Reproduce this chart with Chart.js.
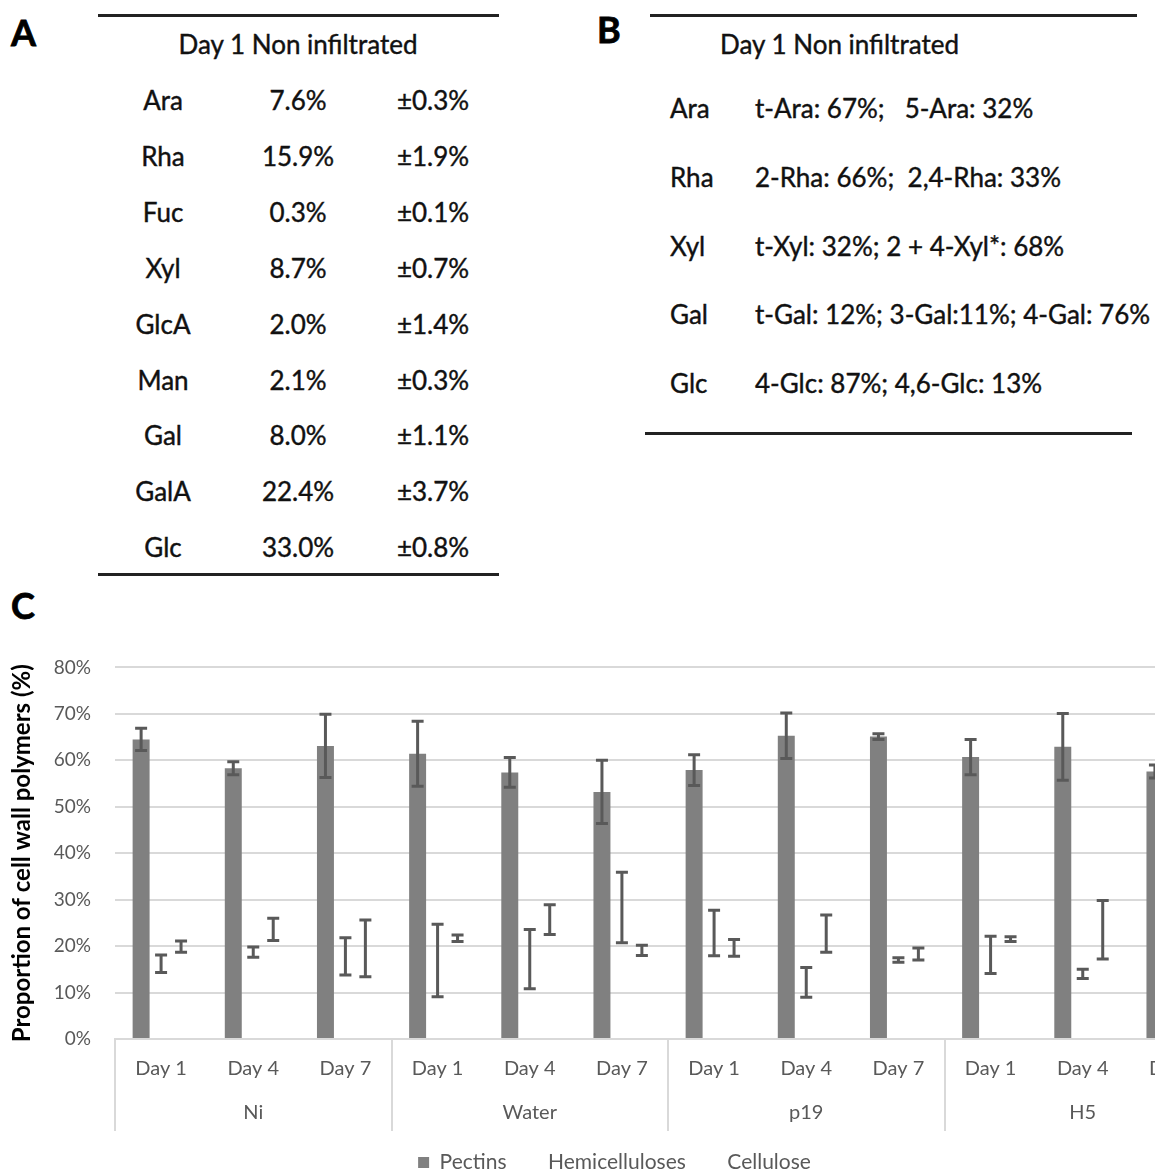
<!DOCTYPE html>
<html>
<head>
<meta charset="utf-8">
<script src="https://cdn.jsdelivr.net/npm/chart.js@4.4.0/dist/chart.umd.min.js"></script>
<style>
  html, body { margin: 0; padding: 0; background: #fff; }
  body { width: 1155px; height: 1175px; overflow: hidden; position: relative; font-family: Lato, "Open Sans", sans-serif; color: #111; }
  .panel { position: absolute; font-weight: bold; font-size: 36px; line-height: 36px; color: #000; -webkit-text-stroke: 0.8px #000; }
  .rule { position: absolute; height: 3px; background: #222; }
  .cell { position: absolute; font-size: 26px; line-height: 30px; white-space: nowrap; -webkit-text-stroke: 0.4px #111; }
  .mid { width: 160px; text-align: center; }
  #chartBox { position: absolute; left: 0; top: 632px; width: 1250px; height: 551px; }
</style>
</head>
<body>
<div class="panel" style="left:11px;top:14px">A</div>
<div class="panel" style="left:597px;top:11px">B</div>
<div class="panel" style="left:11px;top:587px">C</div>
<div id="tables"></div>
<div id="chartBox"><canvas id="wallChart" width="1250" height="551"></canvas></div>

<script>
// Table A: monosaccharide composition
const sugars = ['Ara', 'Rha', 'Fuc', 'Xyl', 'GlcA', 'Man', 'Gal', 'GalA', 'Glc'];
const sugarPct = ['7.6%', '15.9%', '0.3%', '8.7%', '2.0%', '2.1%', '8.0%', '22.4%', '33.0%'];
const sugarSd = ['±0.3%', '±1.9%', '±0.1%', '±0.7%', '±1.4%', '±0.3%', '±1.1%', '±3.7%', '±0.8%'];

// Table B: linkages
const linkSugars = ['Ara', 'Rha', 'Xyl', 'Gal', 'Glc'];
const linkages = [
    't-Ara: 67%;\u00a0\u00a0\u00a05-Ara: 32%',
    '2-Rha: 66%;\u00a0\u00a02,4-Rha: 33%',
    't-Xyl: 32%; 2 + 4-Xyl*: 68%',
    't-Gal: 12%; 3-Gal:11%; 4-Gal: 76%',
    '4-Glc: 87%; 4,6-Glc: 13%'
];
const tableTitle = 'Day 1 Non infiltrated';

// Chart C
const treatments = ['Ni', 'Water', 'p19', 'H5'];
const days = ['Day 1', 'Day 4', 'Day 7'];
const pectins = [64.5, 58.3, 63.1, 61.4, 57.4, 53.2, 57.9, 65.3, 65.1, 60.7, 62.9, 57.6];
const pectinsErr = [2.4, 1.4, 6.8, 7.0, 3.2, 6.8, 3.3, 4.9, 0.6, 3.8, 7.2, 1.4];
const hemicelluloses = [16.2, 18.7, 17.8, 16.9, 17.2, 28.3, 22.8, 12.2, 17.0, 18.1, 14.0, 20.5];
const hemicellulosesErr = [1.9, 1.1, 4.0, 7.8, 6.4, 7.6, 4.9, 3.2, 0.5, 4.0, 1.0, 2.0];
const cellulose = [19.9, 23.6, 19.5, 21.7, 25.7, 19.1, 19.6, 22.7, 18.3, 21.5, 23.5, 22.0];
const celluloseErr = [1.2, 2.4, 6.1, 0.7, 3.2, 1.1, 1.8, 4.0, 1.3, 0.5, 6.3, 1.5];

// ---- tables ----
const box = document.getElementById('tables');
function put(text, x, y, cls) {
    const d = document.createElement('div');
    d.className = 'cell ' + (cls || '');
    d.textContent = text;
    d.style.left = x + 'px';
    d.style.top = y + 'px';
    box.appendChild(d);
}
function rule(x, y, w) {
    const d = document.createElement('div');
    d.className = 'rule';
    d.style.left = x + 'px';
    d.style.top = y + 'px';
    d.style.width = w + 'px';
    box.appendChild(d);
}

rule(98, 14, 401);
put(tableTitle, 298 - 150, 29, 'mid');
box.lastChild.style.width = '300px';
sugars.forEach((s, i) => {
    const y = 100 + i * 55.9 - 15;
    put(s, 163 - 80, y, 'mid');
    put(sugarPct[i], 298 - 80, y, 'mid');
    put(sugarSd[i], 433 - 80, y, 'mid');
});
rule(98, 573, 401);

rule(650, 14, 487);
put(tableTitle, 720, 29);
linkSugars.forEach((s, i) => {
    const y = 108 + i * 68.8 - 15;
    put(s, 670, y);
    put(linkages[i], 755, y);
});
rule(645, 432, 487);

// ---- chart ----
const labels = treatments.flatMap(t => days.map((d, i) => [d, i === 1 ? t : '']));

const errorBars = {
    id: 'errorBars',
    afterDatasetsDraw(chart) {
        const ctx = chart.ctx, y = chart.scales.y;
        ctx.save();
        ctx.strokeStyle = '#595959';
        ctx.lineWidth = 3;
        chart.data.datasets.forEach((ds, i) => {
            chart.getDatasetMeta(i).data.forEach((bar, j) => {
                const v = ds.data[j], e = ds.err[j];
                const top = y.getPixelForValue(v + e), bot = y.getPixelForValue(v - e);
                const x = bar.x;
                ctx.beginPath();
                ctx.moveTo(x, top); ctx.lineTo(x, bot);
                ctx.moveTo(x - 6, top); ctx.lineTo(x + 6, top);
                ctx.moveTo(x - 6, bot); ctx.lineTo(x + 6, bot);
                ctx.stroke();
            });
        });
        ctx.restore();
    }
};

new Chart(document.getElementById('wallChart'), {
    type: 'bar',
    data: {
        labels: labels,
        datasets: [
            { label: 'Pectins', data: pectins, err: pectinsErr, backgroundColor: '#808080' },
            { label: 'Hemicelluloses', data: hemicelluloses, err: hemicellulosesErr, backgroundColor: 'rgba(255,255,255,0)' },
            { label: 'Cellulose', data: cellulose, err: celluloseErr, backgroundColor: 'rgba(255,255,255,0)' }
        ]
    },
    options: {
        responsive: false,
        animation: false,
        devicePixelRatio: 1,
        categoryPercentage: 0.65,
        barPercentage: 0.85,
        layout: { padding: { left: 8, top: 9, right: 29, bottom: 0 } },
        plugins: {
            tooltip: { enabled: false },
            legend: {
                position: 'bottom',
                labels: {
                    boxWidth: 11, boxHeight: 11, padding: 20,
                    color: '#595959',
                    font: { family: 'Lato', size: 21 }
                }
            }
        },
        scales: {
            y: {
                min: 0, max: 80,
                ticks: {
                    stepSize: 10,
                    padding: 24,
                    color: '#595959',
                    font: { family: 'Lato', size: 19 },
                    callback: v => v + '%'
                },
                grid: { color: '#d9d9d9', lineWidth: 2, drawTicks: false },
                border: { display: false },
                title: {
                    display: true,
                    text: 'Proportion of cell wall polymers (%)',
                    color: '#000',
                    font: { family: 'Lato', size: 24, weight: 'bold' },
                    padding: 0
                },
                afterFit: s => { s.width = 107; }
            },
            x: {
                grid: {
                    offset: true,
                    drawOnChartArea: false,
                    tickLength: 92,
                    lineWidth: 2,
                    color: c => c.index % 3 === 0 ? '#d9d9d9' : 'rgba(0,0,0,0)'
                },
                border: { color: '#d9d9d9', width: 2 },
                ticks: {
                    autoSkip: false,
                    maxRotation: 0,
                    padding: -84,
                    color: '#595959',
                    font: { family: 'Lato', size: 20, lineHeight: 2.2 }
                },
                afterFit: s => { s.height = 93; }
            }
        }
    },
    plugins: [errorBars]
});
</script>
</body>
</html>
